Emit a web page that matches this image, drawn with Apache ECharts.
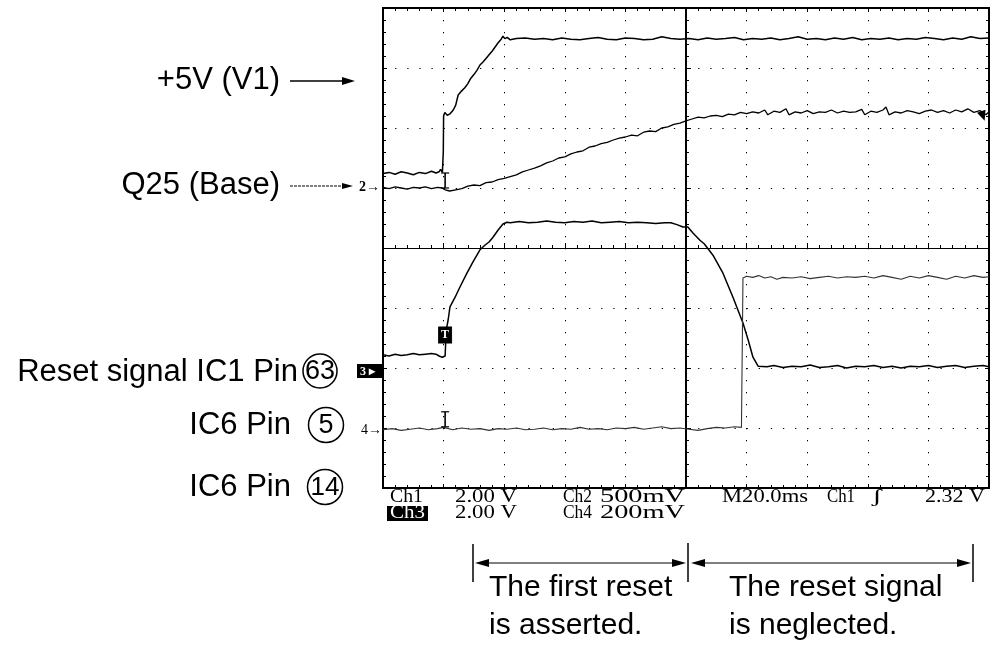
<!DOCTYPE html>
<html>
<head>
<meta charset="utf-8">
<script src="https://cdn.jsdelivr.net/npm/echarts@6/dist/echarts.min.js"></script>
<style>
html,body{margin:0;padding:0;background:#fff;}
#c{width:994px;height:648px;}
</style>
</head>
<body>
<div id="c"></div>
<script>
// ---- Data (x: time in ms relative to screen centre, 20 ms/div; y: screen divisions, 0 = centre) ----
const timeRange = [-100, 100];
const divRange = [-4, 4];

const ch1 = [[-100,1.24],[-98,1.26],[-96,1.23],[-94,1.27],[-92,1.25],[-90,1.22],[-88,1.26],[-86,1.24],[-84,1.28],[-82.5,1.25],[-81.5,1.27],[-81,1.31],[-80.4,1.26],
[-80.1,1.6],[-80,2.2],[-79.6,2.26],[-78.8,2.21],[-77.8,2.24],[-76.8,2.3],[-76,2.38],[-75.2,2.55],[-74.2,2.61],[-73,2.67],[-72,2.74],[-71,2.83],[-70,2.89],[-69,2.96],[-68,3.05],[-67,3.1],[-66,3.16],[-65,3.22],[-64,3.28],[-63,3.35],[-62,3.42],[-61,3.48],[-60.4,3.53],[-59.8,3.49],[-59,3.51],[-58,3.47],
[-56,3.49],[-53,3.5],[-50,3.48],[-47,3.49],[-44,3.47],[-41,3.5],[-38,3.48],[-35,3.47],[-32,3.49],[-29,3.51],[-26,3.48],[-23,3.47],[-20,3.5],[-17,3.49],[-14,3.47],[-11,3.48],[-8,3.52],[-5,3.49],[-2,3.48],[1,3.49],[4,3.47],[7,3.5],[10,3.48],[13,3.49],[16,3.51],[19,3.47],[22,3.49],[25,3.48],[28,3.5],[31,3.47],[34,3.49],[37,3.52],[40,3.48],[43,3.49],[46,3.47],[49,3.5],[52,3.48],[55,3.51],[58,3.47],[61,3.49],[64,3.48],[67,3.5],[70,3.47],[73,3.49],[76,3.48],[79,3.51],[82,3.49],[85,3.47],[88,3.5],[91,3.48],[94,3.52],[97,3.49],[100,3.5]];

const ch2 = [[-100,1.01],[-98,0.99],[-96,1.02],[-94,1.0],[-92,0.98],[-90,1.01],[-88,1.0],[-86,1.02],[-84,0.99],[-82,1.01],[-80.5,1.0],[-79.5,0.97],[-78,0.95],[-76,0.97],[-74,0.99],[-72,1.03],[-70,1.05],[-68,1.04],[-66,1.09],[-64,1.1],[-62,1.14],[-60,1.16],[-58,1.19],[-56,1.22],[-54,1.27],[-52,1.3],[-50,1.33],[-48,1.37],[-46,1.42],[-44,1.45],[-42,1.5],[-40,1.52],[-38,1.57],[-36,1.6],[-34,1.62],[-32,1.68],[-30,1.7],[-28,1.74],[-26,1.76],[-24,1.8],[-22,1.83],[-20,1.85],[-18,1.88],[-16,1.87],[-14,1.93],[-12,1.95],[-10,1.94],[-8,2.0],[-6,2.02],[-4,2.06],[-2,2.08],[0,2.12],[2,2.15],[4,2.18],[6,2.17],[8,2.2],[10,2.21],[12,2.19],[14,2.23],[16,2.22],[18,2.26],[20,2.24],[22,2.27],[24,2.25],[26,2.3],[27,2.22],[29,2.28],[31,2.26],[33,2.32],[34,2.22],[36,2.27],[38,2.25],[40,2.29],[42,2.24],[44,2.27],[46,2.26],[48,2.3],[50,2.25],[52,2.28],[54,2.26],[56,2.27],[58,2.31],[59,2.22],[61,2.28],[63,2.26],[65,2.3],[66,2.35],[67,2.22],[69,2.27],[71,2.25],[73,2.29],[75,2.27],[77,2.24],[79,2.28],[81,2.3],[83,2.26],[85,2.29],[87,2.25],[89,2.3],[91,2.27],[93,2.32],[95,2.26],[97,2.29],[99,2.22],[100,2.27]];

const ch3 = [[-100,-1.78],[-98,-1.8],[-96,-1.77],[-94,-1.79],[-92,-1.78],[-90,-1.76],[-88,-1.78],[-86,-1.77],[-84,-1.76],[-82.5,-1.77],[-81.5,-1.8],[-80.5,-1.82],[-79.5,-1.8],[-79.2,-1.45],[-79,-1.33],[-78.5,-1.2],[-77.9,-0.98],[-76.2,-0.82],[-74.6,-0.65],[-72.3,-0.42],[-70.3,-0.23],[-68,-0.03],[-66.3,0.05],[-65,0.1],[-63.7,0.18],[-62,0.3],[-60.4,0.4],[-59.1,0.43],[-58,0.42],
[-55,0.44],[-52,0.42],[-49,0.43],[-46,0.45],[-43,0.43],[-40,0.42],[-37,0.44],[-34,0.43],[-31,0.45],[-28,0.42],[-25,0.43],[-22,0.44],[-19,0.42],[-16,0.43],[-13,0.42],[-10,0.41],[-7,0.42],[-5,0.42],[-3,0.39],[-1,0.35],[0.6,0.35],[2.3,0.25],[4.6,0.13],[6,0.07],[8.9,-0.12],[12.2,-0.42],[15.5,-0.82],[18.8,-1.25],[20.5,-1.53],[22.1,-1.82],[23.8,-1.97],[26.7,-1.98],
[29,-1.96],[32,-1.99],[35,-1.97],[38,-1.98],[41,-1.95],[44,-1.99],[47,-1.98],[50,-1.96],[53,-2.0],[56,-1.97],[59,-1.98],[62,-1.96],[65,-1.99],[68,-1.97],[71,-2.0],[74,-1.97],[77,-1.98],[80,-1.96],[83,-1.99],[86,-1.97],[89,-1.96],[92,-1.99],[95,-1.97],[98,-1.96],[100,-1.98]];

const ch4 = [[-100,-3.03],[-97,-3.01],[-94,-3.04],[-91,-3.02],[-88,-3.0],[-85,-3.03],[-82,-3.01],[-80,-2.99],[-77,-3.03],[-74,-3.0],[-71,-3.02],[-68,-3.01],[-65,-3.04],[-62,-3.01],[-59,-3.02],[-56,-3.0],[-53,-3.03],[-50,-3.02],[-47,-3.0],[-44,-3.03],[-41,-3.01],[-38,-3.02],[-35,-2.99],[-32,-3.02],[-29,-3.01],[-26,-3.03],[-23,-3.0],[-20,-3.01],[-17,-2.99],[-14,-3.02],[-11,-3.0],[-8,-2.98],[-5,-3.01],[-2,-3.0],[1,-3.02],[4,-3.04],[7,-3.01],[10,-2.99],[13,-3.0],[16,-2.98],[18.3,-2.99],[18.8,-0.5],[20,-0.47],[22,-0.49],[24,-0.46],[26,-0.5],[28,-0.48],[30,-0.52],[32,-0.49],[35,-0.5],[38,-0.48],[41,-0.51],[44,-0.49],[47,-0.47],[50,-0.5],[53,-0.48],[56,-0.49],[59,-0.47],[62,-0.5],[65,-0.46],[68,-0.49],[71,-0.52],[74,-0.47],[77,-0.5],[80,-0.46],[83,-0.49],[86,-0.52],[89,-0.47],[92,-0.5],[95,-0.46],[98,-0.49],[100,-0.48]];

// trigger I-beam markers [x, yLow, yHigh] and trigger "T" marker
const iBeams = [[-79.5, 1.0, 1.25], [-79.5, -2.98, -2.73]];
const trigMark = [[-79.5, -1.45]];
const ch2EndMark = [[98, 2.2]];

// scope readout texts
const readRow1 = ['Ch1', '2.00 V', 'Ch2', '500mV', 'M20.0ms', 'Ch1', '\u0283', '2.32 V'];
const readRow2 = ['Ch3', '2.00 V', 'Ch4', '200mV'];
const signalLabels = ['+5V (V1)', 'Q25 (Base)', 'Reset signal IC1 Pin', 'IC6 Pin', 'IC6 Pin'];
const pinNumbers = ['63', '5', '14'];
const noteLeft = ['The first reset', 'is asserted.'];
const noteRight = ['The reset signal', 'is neglected.'];

// ---- Rendering ----
const SANS = '"Liberation Sans", Arial, Helvetica, sans-serif';
const SERIF = '"Liberation Serif", "Times New Roman", serif';
const mctx = document.createElement('canvas').getContext('2d');

function sansText(x, y, text, size, align) {
  return {type:'text', x:x, y:y, z:100, silent:true,
    style:{text:text, font: size + 'px ' + SANS, fill:'#000',
      textAlign: align || 'left', textVerticalAlign:'middle', align: align || 'left', verticalAlign:'middle'}};
}
function fitText(x, y, text, width, size, color) {
  const font = size + 'px ' + SERIF;
  mctx.font = font;
  const w = mctx.measureText(text).width || 1;
  return {type:'text', x:x, y:y, scaleX: width / w, z:101, silent:true,
    style:{text:text, font:font, fill: color || '#000', textAlign:'left', textVerticalAlign:'middle', align:'left', verticalAlign:'middle'}};
}
function seg(x1, y1, x2, y2, w, dash) {
  return {type:'line', z:100, silent:true, shape:{x1:x1,y1:y1,x2:x2,y2:y2},
    style:{stroke:'#000', lineWidth:w || 1.5, lineDash: dash || null}};
}
function head(pts) {
  return {type:'polygon', z:100, silent:true, shape:{points:pts}, style:{fill:'#000'}};
}
function circ(cx, cy, r) {
  return {type:'circle', z:100, silent:true, shape:{cx:cx, cy:cy, r:r}, style:{fill:'none', stroke:'#000', lineWidth:1.5}};
}

const graphics = [];
// left signal labels
graphics.push(sansText(280, 80, signalLabels[0], 31, 'right'));
graphics.push(seg(290, 81, 344, 81, 1.5));
graphics.push(head([[342,77],[355,81],[342,85]]));
graphics.push(sansText(280, 185, signalLabels[1], 31, 'right'));
graphics.push(seg(290, 186, 344, 186, 1, [3,1]));
graphics.push(head([[342,183],[353,186],[342,189]]));
graphics.push(sansText(298, 372, signalLabels[2], 31, 'right'));
graphics.push(circ(320, 371, 17));
graphics.push(sansText(320, 372, pinNumbers[0], 27, 'center'));
graphics.push(sansText(291, 425, signalLabels[3], 31, 'right'));
graphics.push(circ(326, 425, 17.5));
graphics.push(sansText(326, 426, pinNumbers[1], 27, 'center'));
graphics.push(sansText(291, 487, signalLabels[4], 31, 'right'));
graphics.push(circ(325, 487, 17.5));
graphics.push(sansText(325, 488, pinNumbers[2], 26, 'center'));

// channel ground markers left of screen
graphics.push({type:'text', x:359, y:187, z:100, silent:true, style:{text:'2\u2192', font:'bold 14px ' + SERIF, fill:'#000', textVerticalAlign:'middle', verticalAlign:'middle'}});
graphics.push({type:'rect', x:357, y:364, z:100, silent:true, shape:{width:25, height:14}, style:{fill:'#000'}});
graphics.push({type:'text', x:360, y:371.5, z:101, silent:true, style:{text:'3 \u25B8', font:'bold 12px ' + SERIF, fill:'#fff', textVerticalAlign:'middle', verticalAlign:'middle'}});
graphics.push({type:'text', x:361, y:430, z:100, silent:true, style:{text:'4\u2192', font:'14px ' + SERIF, fill:'#000', textVerticalAlign:'middle', verticalAlign:'middle'}});

// readouts under the screen
const row1X = [390, 455, 563, 600, 722, 827, 872, 925];
const row1W = [33, 62, 29, 85, 86, 28, 10, 60];
readRow1.forEach(function(t, i){ graphics.push(fitText(row1X[i], 497.5, t, row1W[i], 18)); });
graphics.push({type:'rect', x:387, y:506, z:100, silent:true, shape:{width:41, height:15}, style:{fill:'#000'}});
const row2X = [390, 455, 563, 600];
const row2W = [35, 62, 29, 85];
readRow2.forEach(function(t, i){ graphics.push(fitText(row2X[i], 513.5, t, row2W[i], 18, i === 0 ? '#fff' : '#000')); });

// bracket annotations
graphics.push(seg(473, 544, 473, 582, 1.5));
graphics.push(seg(688, 543, 688, 582, 1.5));
graphics.push(seg(973, 544, 973, 582, 1.5));
graphics.push(seg(480, 563, 680, 563, 1.2));
graphics.push(head([[475,563],[489,559],[489,567]]));
graphics.push(head([[686,563],[672,559],[672,567]]));
graphics.push(seg(696, 563, 966, 563, 1.2));
graphics.push(head([[691,563],[705,559],[705,567]]));
graphics.push(head([[971,563],[957,559],[957,567]]));
graphics.push(sansText(489, 588, noteLeft[0], 30, 'left'));
graphics.push(sansText(489, 626, noteLeft[1], 30, 'left'));
graphics.push(sansText(729, 588, noteRight[0], 30, 'left'));
graphics.push(sansText(729, 626, noteRight[1], 30, 'left'));

const GRID_W = 606, GRID_H = 480;
const dotX = [1.3, GRID_W / 50 - 1.3];
const dotY = [1.3, GRID_H / 40 - 1.3];

function borderAxisX(pos) {
  return {type:'value', position:pos, min:timeRange[0], max:timeRange[1], interval:20,
    axisLine:{show:false, onZero:false}, axisLabel:{show:false}, splitLine:{show:false},
    axisTick:{show:true, inside:true, length:4, lineStyle:{color:'#000', width:1}},
    minorTick:{show:true, splitNumber:5, length:3, lineStyle:{color:'#000', width:1}}};
}
function borderAxisY(pos) {
  return {type:'value', position:pos, min:divRange[0], max:divRange[1], interval:1,
    axisLine:{show:false, onZero:false}, axisLabel:{show:false}, splitLine:{show:false},
    axisTick:{show:true, inside:true, length:4, lineStyle:{color:'#000', width:1}},
    minorTick:{show:true, splitNumber:5, length:3, lineStyle:{color:'#000', width:1}}};
}

const chart = echarts.init(document.getElementById('c'), null, {renderer:'canvas'});
const lineBase = {type:'line', symbol:'none', silent:true, animation:false, xAxisIndex:0, yAxisIndex:0};
chart.setOption({
  animation:false,
  backgroundColor:'#fff',
  grid:{left:383, top:8, width:GRID_W, height:GRID_H, containLabel:false, show:true, borderColor:'#000', borderWidth:2, backgroundColor:'transparent'},
  xAxis:[
    {type:'value', min:timeRange[0], max:timeRange[1], interval:20,
      axisLine:{show:true, onZero:true, lineStyle:{color:'#000', width:1}},
      axisTick:{show:true, inside:true, length:5, lineStyle:{color:'#000', width:1}},
      minorTick:{show:true, splitNumber:5, length:3, lineStyle:{color:'#000', width:1}},
      axisLabel:{show:false},
      splitLine:{show:true, lineStyle:{color:'#000', width:1, type:dotY}}},
    borderAxisX('top'),
    borderAxisX('bottom')
  ],
  yAxis:[
    {type:'value', min:divRange[0], max:divRange[1], interval:1,
      axisLine:{show:true, onZero:true, lineStyle:{color:'#000', width:2}},
      axisTick:{show:true, inside:true, length:5, lineStyle:{color:'#000', width:1}},
      minorTick:{show:true, splitNumber:5, length:3, lineStyle:{color:'#000', width:1}},
      axisLabel:{show:false},
      splitLine:{show:true, lineStyle:{color:'#000', width:1, type:dotX}}},
    borderAxisY('left'),
    borderAxisY('right')
  ],
  series:[
    Object.assign({}, lineBase, {name:'Ch1', data:ch1, lineStyle:{color:'#000', width:1.5}, z:3}),
    Object.assign({}, lineBase, {name:'Ch2', data:ch2, lineStyle:{color:'#000', width:1.3}, z:3}),
    Object.assign({}, lineBase, {name:'Ch3', data:ch3, lineStyle:{color:'#000', width:1.5}, z:3}),
    Object.assign({}, lineBase, {name:'Ch4', data:ch4, lineStyle:{color:'#333', width:1.1}, z:3}),
    {type:'custom', name:'trigger', silent:true, animation:false, data:iBeams, encode:{x:0, y:[1,2]}, z:4,
      renderItem:function(params, api){
        const x = api.value(0);
        const a = api.coord([x, api.value(1)]);
        const b = api.coord([x, api.value(2)]);
        const w = 4;
        return {type:'group', children:[
          {type:'line', shape:{x1:a[0], y1:a[1], x2:b[0], y2:b[1]}, style:{stroke:'#000', lineWidth:1.6}},
          {type:'line', shape:{x1:b[0]-w, y1:b[1], x2:b[0]+w, y2:b[1]}, style:{stroke:'#000', lineWidth:1.2}},
          {type:'line', shape:{x1:a[0]-w, y1:a[1], x2:a[0]+w, y2:a[1]}, style:{stroke:'#000', lineWidth:1.2}}
        ]};
      }},
    {type:'scatter', name:'T', silent:true, animation:false, data:trigMark, symbol:'rect', symbolSize:[13,16], z:5,
      itemStyle:{color:'#000', borderColor:'#000', borderWidth:1, opacity:1},
      label:{show:true, position:'inside', formatter:'T', color:'#fff', fontSize:12, fontWeight:'bold', fontFamily:SERIF}},
    {type:'scatter', name:'end', silent:true, animation:false, data:ch2EndMark, symbol:'triangle', symbolRotate:200, symbolSize:[9,10], z:5,
      itemStyle:{color:'#000', opacity:1}}
  ],
  graphic:graphics
});
</script>
</body>
</html>
